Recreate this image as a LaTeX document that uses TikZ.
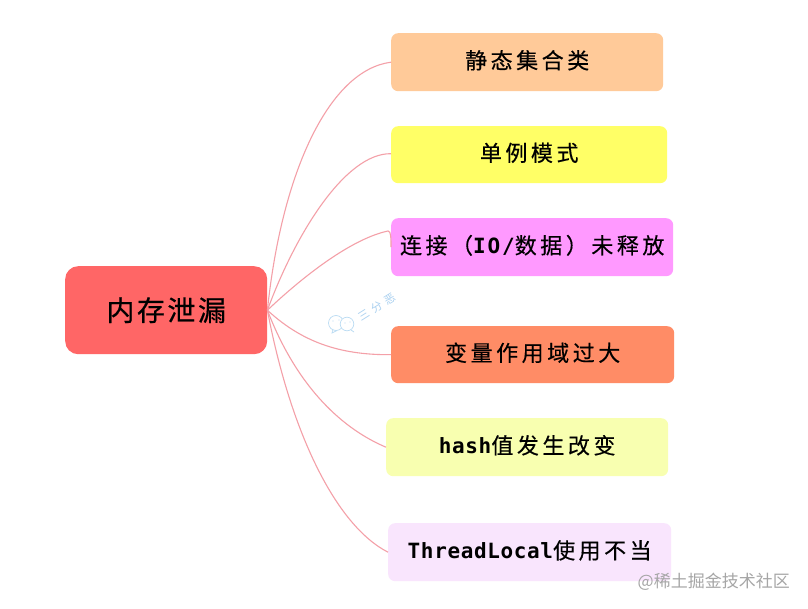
\documentclass[tikz,border=0pt]{standalone}
\usepackage{fontspec}
\newfontfamily\cjk[LetterSpace=16,FakeBold=0.35]{Noto Sans CJK SC}
\newfontfamily\cjkroot[LetterSpace=9,FakeBold=0.5]{Noto Sans CJK SC}
\newfontfamily\cjkplain{Noto Sans CJK SC}
\newfontfamily\cjkwm[LetterSpace=36]{Noto Sans CJK SC}
\newfontfamily\latn[LetterSpace=3]{DejaVu Sans Mono Bold}
\newfontfamily\latnio[LetterSpace=9]{DejaVu Sans Mono Bold}
\newcommand{\lat}[1]{{\fontsize{21}{25}\selectfont\latn #1}}
\tikzset{
  x=1pt,y=-1pt,
  box/.style={rounded corners=7pt,inner sep=0pt,anchor=north west,text=black,text height=17pt,text depth=4pt,font=\fontsize{22}{26}\selectfont\cjk},
  rootbox/.style={rounded corners=13pt,inner sep=0pt,anchor=north west,fill=rootred,text=black,font=\fontsize{28}{32}\selectfont\cjkroot,minimum width=202pt,minimum height=88pt},
  link/.style={draw=linkpink,line width=1.1pt},
  wm/.style={text=wmtext,inner sep=0pt},
  wmline/.style={draw=wmblue,line width=0.7pt}
}
\definecolor{rootred}{HTML}{FF6666}
\definecolor{linkpink}{HTML}{F4A0A8}
\definecolor{wmblue}{HTML}{BBDCF3}
\definecolor{wmtext}{HTML}{A9D0F0}
\definecolor{boxa}{HTML}{FFCA99}
\definecolor{boxb}{HTML}{FFFF66}
\definecolor{boxc}{HTML}{FF99FF}
\definecolor{boxd}{HTML}{FF8C66}
\definecolor{boxe}{HTML}{F8FFB0}
\definecolor{boxf}{HTML}{F9E5FD}
\definecolor{markgray}{HTML}{A6A6A6}
\begin{document}
\begin{tikzpicture}
\useasboundingbox (0,0) rectangle (808,609);
\fill[white] (0,0) rectangle (808,609);
\node[rootbox] (root) at (65,266) {内存泄漏};
\node[box,fill=boxa,minimum width=272pt,minimum height=58pt] (a) at (391,33) {静态集合类};
\node[box,fill=boxb,minimum width=276pt,minimum height=57pt] (b) at (391,126) {单例模式};
\node[box,fill=boxc,minimum width=282pt,minimum height=58pt] (c) at (391,218) {连接（{\fontsize{21}{25}\selectfont\latnio IO/}数据）未释放};
\node[box,fill=boxd,minimum width=283pt,minimum height=57pt] (d) at (391,326) {变量作用域过大};
\node[box,fill=boxe,minimum width=282pt,minimum height=58pt] (e) at (386,418) {\lat{hash}值发生改变};
\node[box,fill=boxf,minimum width=283pt,minimum height=58pt] (f) at (388,523) {\lat{ThreadLocal}使用不当};
\coordinate (hub) at (root.east);
\coordinate (hook) at (388,231);
\path[link] (hub) .. controls (282,170) and (330,70) .. (a.west);
\path[link] (hub) .. controls (295,235) and (345,153) .. ([yshift=1pt]b.west);
\path[link] (hub) .. controls (310,270) and (355,238) .. (hook) .. controls (391,231) and (391,238) .. (c.west);
\path[link] (hub) .. controls (305,345) and (345,355) .. (d.west);
\path[link] (hub) .. controls (298,390) and (345,430) .. (e.west);
\path[link] (hub) .. controls (290,430) and (335,525) .. (f.west);
% watermark
\draw[wmline] (333,329) -- (332,333) -- (337,330.5);
\draw[wmline] (336,323) circle (7.5);
\draw[wmline,fill=white] (347,324) circle (6.8);
\draw[wmline] (351,330) -- (354,332);
\fill[wmblue] (333,321) circle (0.7) (339,320) circle (0.7) (345,323) circle (0.6) (350,322) circle (0.6);
\node[wm,rotate=32,font=\fontsize{11}{13}\selectfont\cjkwm] (w) at (377,307) {三分恶};
\node[text=markgray,inner sep=0pt,font=\fontsize{17}{20}\selectfont\cjkplain,anchor=east] (g) at (790,582) {@稀土掘金技术社区};
\end{tikzpicture}
\end{document}
